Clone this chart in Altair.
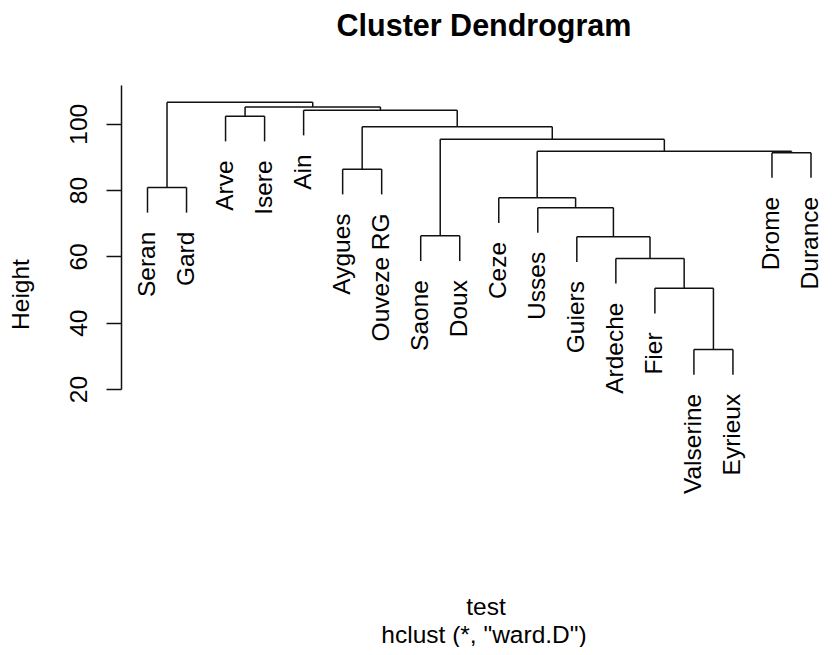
import altair as alt
import pandas as pd

# ---- data ----
leaves = ["Seran", "Gard", "Arve", "Isere", "Ain", "Aygues", "Ouveze RG",
          "Saone", "Doux", "Ceze", "Usses", "Guiers", "Ardeche", "Fier",
          "Valserine", "Eyrieux", "Drome", "Durance"]

# R-style merge table: negative = leaf (1-based in display order), positive = earlier merge
merge_left = [-15, -14, -13, -12, -8, -11, -10, -1, -6, -17, 7, 5, 9, -3, -5, 14, 8]
merge_right = [-16, 1, 2, 3, -9, 4, 6, -2, -7, -18, 10, 11, 12, -4, 13, 15, 16]
merge_height = [31.9, 50.4, 59.4, 65.9, 66.2, 74.7, 77.7, 80.8, 86.3, 91.3,
                91.7, 95.3, 99.1, 102.3, 104.1, 105.1, 106.5]

y_ticks = [20, 40, 60, 80, 100]
hang = 7.6

# ---- build segments like plot.hclust ----
pos = {}
for i in range(len(leaves)):
    pos[-(i + 1)] = (i + 1, None)

segs = []
leaf_rows = []
for k, (a, b, h) in enumerate(zip(merge_left, merge_right, merge_height)):
    xa, ha = pos[a]
    xb, hb = pos[b]
    if ha is None:
        ha = h - hang
        leaf_rows.append({"x": xa, "y": ha, "label": leaves[-a - 1]})
    if hb is None:
        hb = h - hang
        leaf_rows.append({"x": xb, "y": hb, "label": leaves[-b - 1]})
    segs.append({"x": xa, "x2": xa, "y": ha, "y2": h})
    segs.append({"x": xb, "x2": xb, "y": hb, "y2": h})
    segs.append({"x": xa, "x2": xb, "y": h, "y2": h})
    pos[k + 1] = ((xa + xb) / 2.0, h)

seg_df = pd.DataFrame(segs)
leaf_df = pd.DataFrame(leaf_rows)

FONT = "Liberation Sans, Arial, Helvetica, sans-serif"
W, H = 703, 304

xscale = alt.Scale(domain=[0.321, 18.333], nice=False, zero=False)
yscale = alt.Scale(domain=[20, 111.7], nice=False, zero=False)

rules = alt.Chart(seg_df).mark_rule(color="#111", strokeWidth=1.5).encode(
    x=alt.X("x:Q", scale=xscale, axis=None),
    x2="x2:Q",
    y=alt.Y("y:Q", scale=yscale, axis=alt.Axis(
        values=y_ticks, title="Height", grid=False,
        domainColor="#111", domainWidth=1.5, tickColor="#111", tickWidth=1.5,
        tickSize=15, labelAngle=270, labelAlign="center", labelBaseline="alphabetic",
        labelPadding=20, labelFont=FONT, labelFontSize=24.5, labelColor="#000",
        titleFont=FONT, titleFontSize=24.5, titleFontWeight="normal", titleColor="#000",
        titleAngle=270, titleAlign="center", titleBaseline="alphabetic",
        titleX=-93, titleY=209)),
    y2="y2:Q",
)

labels = alt.Chart(leaf_df).mark_text(
    angle=270, align="right", baseline="middle", dx=-19,
    font=FONT, fontSize=24.5, color="#000"
).encode(
    x=alt.X("x:Q", scale=xscale),
    y=alt.Y("y:Q", scale=yscale),
    text="label:N",
)

one = pd.DataFrame({"t": ["Cluster Dendrogram", "test", 'hclust (*, "ward.D")']})

title_txt = alt.Chart(one).transform_filter(alt.datum.t == "Cluster Dendrogram").mark_text(
    font=FONT, fontSize=30.5, fontWeight="bold", align="center", baseline="alphabetic", color="#000"
).encode(x=alt.value(363), y=alt.value(-49), text="t:N")

xlab_txt = alt.Chart(one).transform_filter(alt.datum.t == "test").mark_text(
    font=FONT, fontSize=24.5, align="center", baseline="alphabetic", color="#000"
).encode(x=alt.value(365), y=alt.value(530), text="t:N")

sub_txt = alt.Chart(one).transform_filter(alt.datum.t == 'hclust (*, "ward.D")').mark_text(
    font=FONT, fontSize=24.5, align="center", baseline="alphabetic", color="#000"
).encode(x=alt.value(363), y=alt.value(557.5), text="t:N")

chart = alt.layer(rules, labels, title_txt, xlab_txt, sub_txt).properties(
    width=W, height=H,
    background="white",
    autosize=alt.AutoSizeParams(type="none"),
    padding={"left": 113, "top": 77, "right": 0, "bottom": 258},
).configure_view(stroke=None)

chart.save("out.html", embed_options={"renderer": "svg", "actions": False})
